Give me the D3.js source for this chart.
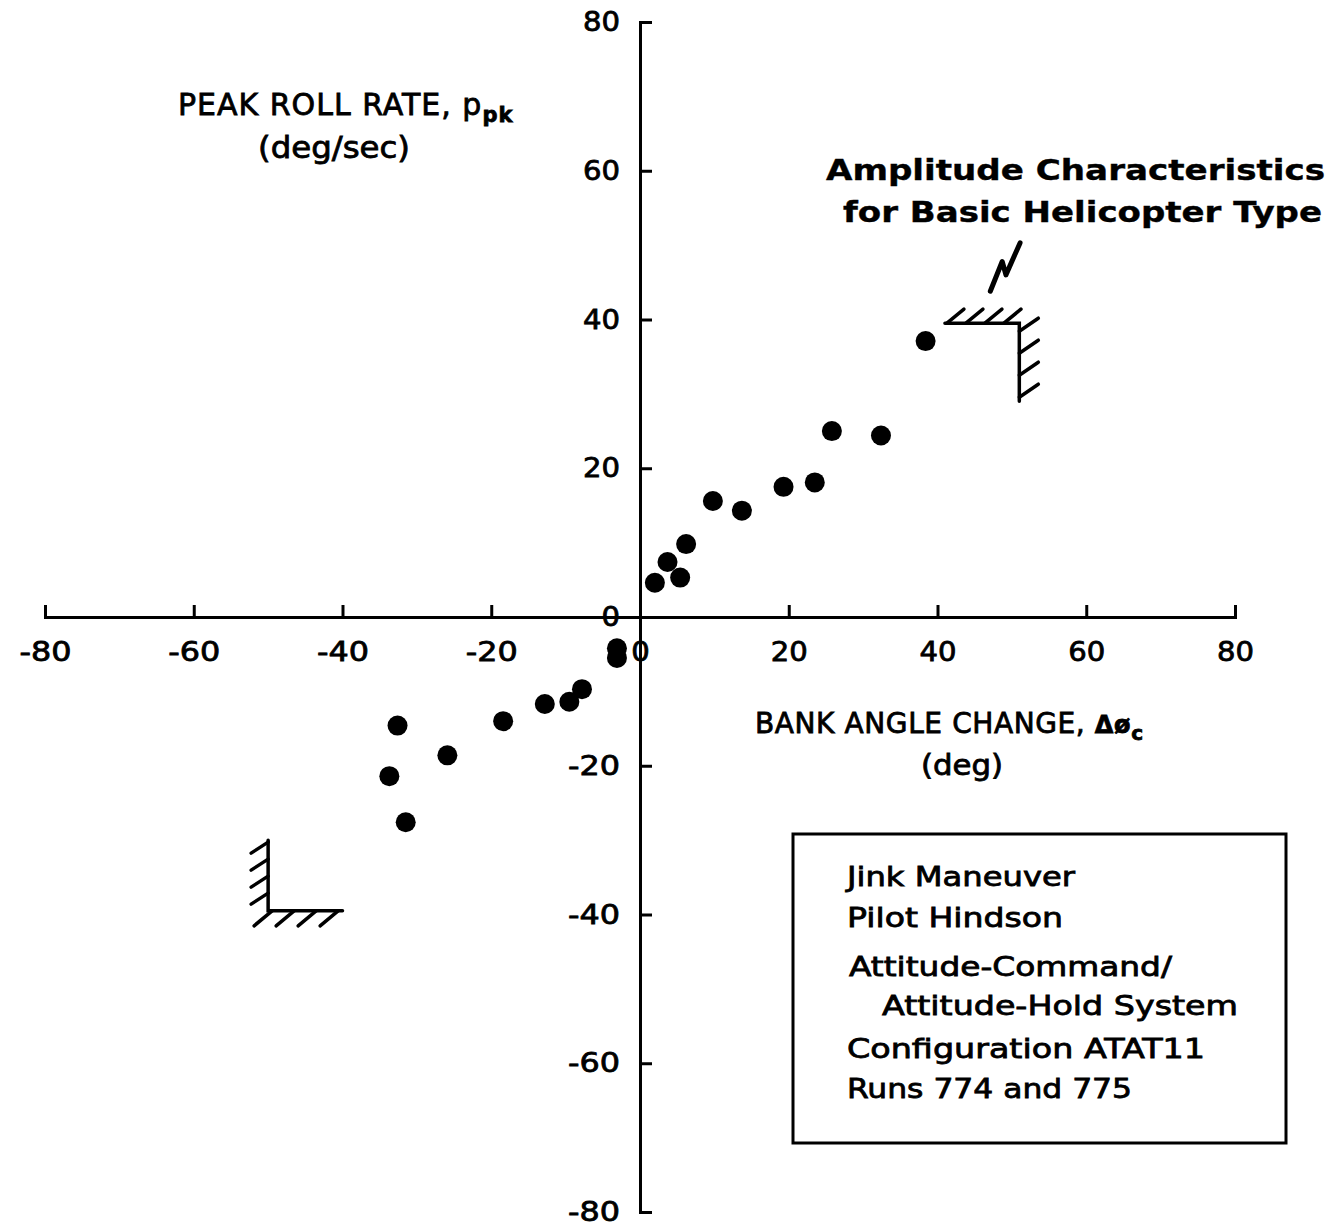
<!DOCTYPE html>
<html>
<head>
<meta charset="utf-8">
<script src="https://cdn.jsdelivr.net/npm/d3@7"></script>
<style>
  html, body { margin: 0; padding: 0; background: #fff; }
  svg { display: block; }
  text { font-family: "DejaVu Sans", sans-serif; fill: #000; stroke: #000; stroke-width: 0.8px; }
  text.bold { stroke-width: 0.4px; }
</style>
</head>
<body>
<svg id="chart" width="1329" height="1226"></svg>
<script>
// ---- data ----
const bankAngle = [38.4, 25.8, 32.4, 23.5, 19.3, 13.7, 9.8, 6.2, 3.7, 5.4, 2.0,
                   -3.1, -3.1, -7.8, -9.5, -12.8, -18.4, -32.6, -25.9, -33.7, -31.5];
const peakRollRate = [37.1, 25.0, 24.4, 18.1, 17.5, 14.3, 15.6, 9.8, 7.4, 5.3, 4.6,
                      -4.2, -5.5, -9.7, -11.4, -11.7, -14.0, -14.6, -18.6, -21.4, -27.6];
const xTicks = [-80, -60, -40, -20, 0, 20, 40, 60, 80];
const yTicks = [-80, -60, -40, -20, 0, 20, 40, 60, 80];
const legendLines = ["Jink Maneuver", "Pilot Hindson", "Attitude-Command/",
                     "Attitude-Hold System", "Configuration ATAT11", "Runs 774 and 775"];
// amplitude boundary corners (data units)
const upperCorner = {x: 51, y: 39.5, xEnd: 41, yEnd: 29};
const lowerCorner = {x: -50, y: -39.5, xEnd: -40, yEnd: -30};
const boltPts = [[47.1, 43.8], [48.7, 47.8], [49.2, 46.0], [51.1, 50.3]];

// ---- scales ----
const svg = d3.select("#chart");
const x = d3.scaleLinear().domain([-80, 80]).range([45, 1235]);
const y = d3.scaleLinear().domain([-80, 80]).range([1212, 22]);

function labelLen(v) {
  const s = String(v);
  const digits = s.replace("-", "").length;
  return digits * 18.5 + (s.startsWith("-") ? 15 : 0);
}

// ---- axes ----
const xAxis = d3.axisBottom(x).tickValues(xTicks).tickSize(-12).tickPadding(25);
const gx = svg.append("g").attr("transform", `translate(0,${y(0)})`).call(xAxis);
gx.selectAll("path, line").attr("stroke", "#000").attr("stroke-width", 3);
gx.selectAll("text").attr("font-size", 27).attr("font-family", "DejaVu Sans")
  .attr("fill", "#000")
  .attr("textLength", d => labelLen(d)).attr("lengthAdjust", "spacingAndGlyphs")
  .text(d => String(d));

const yAxis = d3.axisLeft(y).tickValues(yTicks).tickSize(-12).tickPadding(20);
const gy = svg.append("g").attr("transform", `translate(${x(0)},0)`).call(yAxis);
gy.selectAll("path, line").attr("stroke", "#000").attr("stroke-width", 3);
gy.selectAll("text").attr("font-size", 27).attr("font-family", "DejaVu Sans")
  .attr("fill", "#000")
  .attr("textLength", d => labelLen(d)).attr("lengthAdjust", "spacingAndGlyphs")
  .text(d => String(d));
gy.selectAll(".domain").attr("fill", "none");
gx.selectAll(".domain").attr("fill", "none");

// ---- points ----
const pts = bankAngle.map((b, i) => ({b, p: peakRollRate[i]}));
svg.append("g").selectAll("circle").data(pts).join("circle")
  .attr("cx", d => x(d.b)).attr("cy", d => y(d.p)).attr("r", 10).attr("fill", "#000");

// ---- hatched boundaries ----
const hatch = svg.append("g").attr("stroke", "#000").attr("stroke-width", 3.5)
  .attr("stroke-linecap", "round").attr("fill", "none");
// upper right
{
  const cx = x(upperCorner.x), cy = y(upperCorner.y);
  hatch.append("path").attr("d", `M${x(upperCorner.xEnd)},${cy}H${cx}V${y(upperCorner.yEnd)}`);
  const hx = d3.range(4).map(i => x(upperCorner.xEnd) + 2 + i * 19);
  hx.forEach(h => hatch.append("line").attr("x1", h).attr("y1", cy).attr("x2", h + 17).attr("y2", cy - 14));
  const hy = d3.range(4).map(i => cy + 8 + i * 22);
  hy.forEach(v => hatch.append("line").attr("x1", cx).attr("y1", v).attr("x2", cx + 19).attr("y2", v - 13));
}
// lower left
{
  const cx = x(lowerCorner.x), cy = y(lowerCorner.y);
  hatch.append("path").attr("d", `M${cx},${y(lowerCorner.yEnd)}V${cy}H${x(lowerCorner.xEnd)}`);
  const hy = d3.range(4).map(i => y(lowerCorner.yEnd) + 2 + i * 17);
  hy.forEach(v => hatch.append("line").attr("x1", cx).attr("y1", v).attr("x2", cx - 17).attr("y2", v + 11));
  const hx = d3.range(4).map(i => cx + 4 + i * 22);
  hx.forEach(h => hatch.append("line").attr("x1", h).attr("y1", cy).attr("x2", h - 18).attr("y2", cy + 15));
}
// lightning bolt
svg.append("path")
  .attr("d", d3.line().x(d => x(d[0])).y(d => y(d[1]))(boltPts))
  .attr("fill", "none").attr("stroke", "#000").attr("stroke-width", 5)
  .attr("stroke-linejoin", "round").attr("stroke-linecap", "round");

// ---- axis titles ----
const yt = svg.append("text").attr("x", 178).attr("y", 115).attr("font-size", 30)
  .attr("letter-spacing", 1);
yt.append("tspan").text("PEAK ROLL RATE,  p");
yt.append("tspan").attr("dy", 7).attr("font-size", 21).attr("font-weight", "bold").text("pk");
svg.append("text").attr("x", 258).attr("y", 158).attr("font-size", 30)
  .attr("textLength", 152).attr("lengthAdjust", "spacingAndGlyphs").text("(deg/sec)");

const xt = svg.append("text").attr("x", 755).attr("y", 733).attr("font-size", 28)
  .attr("letter-spacing", 0.6);
xt.append("tspan").text("BANK ANGLE CHANGE, ");
xt.append("tspan").attr("font-weight", "bold").attr("font-size", 24).text("\u0394\u00F8");
xt.append("tspan").attr("dy", 7).attr("font-size", 20).attr("font-weight", "bold").text("c");
svg.append("text").attr("x", 921).attr("y", 775).attr("font-size", 28)
  .attr("textLength", 82).attr("lengthAdjust", "spacingAndGlyphs").text("(deg)");

// ---- annotation title ----
svg.append("text").attr("class", "bold").attr("x", 826).attr("y", 180).attr("font-size", 29).attr("font-weight", "bold")
  .attr("textLength", 499).attr("lengthAdjust", "spacingAndGlyphs").text("Amplitude Characteristics");
svg.append("text").attr("class", "bold").attr("x", 843).attr("y", 222).attr("font-size", 29).attr("font-weight", "bold")
  .attr("textLength", 479).attr("lengthAdjust", "spacingAndGlyphs").text("for Basic Helicopter Type");

// ---- legend box ----
svg.append("rect").attr("x", 793).attr("y", 834).attr("width", 493).attr("height", 309)
  .attr("fill", "none").attr("stroke", "#000").attr("stroke-width", 3);
const legX = [847, 847, 849, 882, 847, 847];
const legY = [886, 927, 976, 1015, 1058, 1098];
const legW = [228, 216, 323, 356, 358, 285];
svg.append("g").selectAll("text").data(legendLines).join("text")
  .attr("x", (d, i) => legX[i]).attr("y", (d, i) => legY[i])
  .attr("font-size", 27)
  .attr("textLength", (d, i) => legW[i]).attr("lengthAdjust", "spacingAndGlyphs")
  .text(d => d);
</script>
</body>
</html>
